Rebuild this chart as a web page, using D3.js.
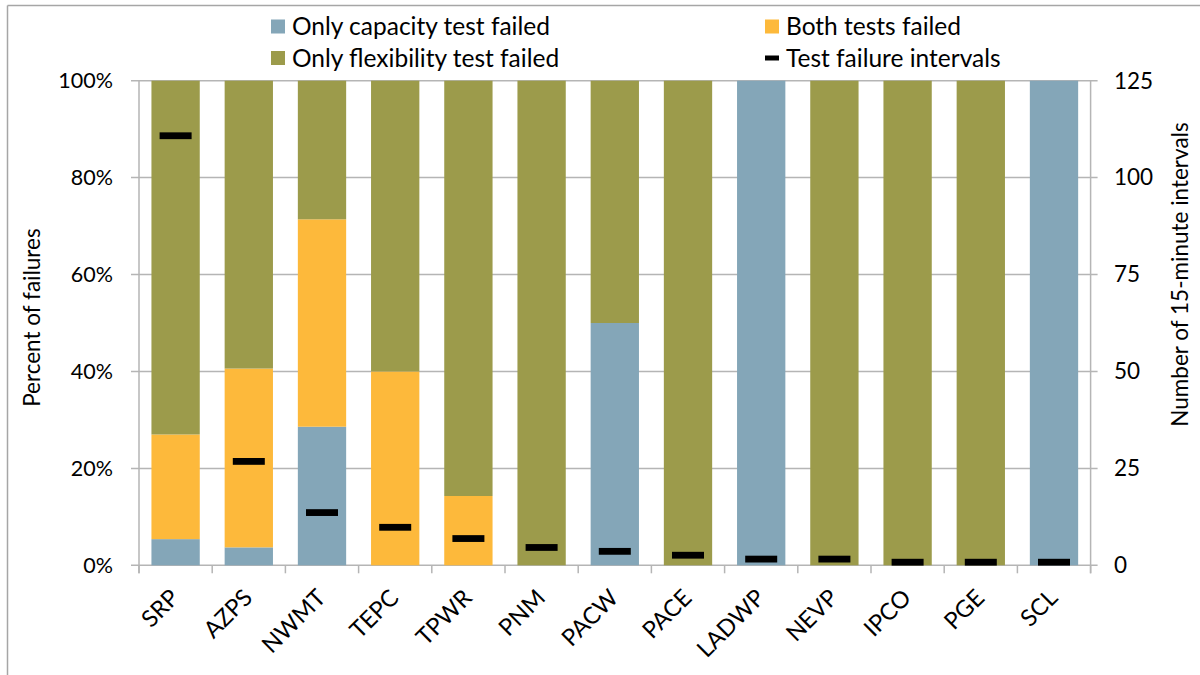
<!DOCTYPE html>
<html>
<head>
<meta charset="utf-8">
<script src="https://cdn.jsdelivr.net/npm/d3@7"></script>
<style>
  html, body { margin: 0; padding: 0; background: #fff; }
  svg { display: block; }
  text { font-family: Lato, "Open Sans", sans-serif; fill: #000; }
</style>
</head>
<body>
<svg id="chart" width="1200" height="675"></svg>
<script>
// ---- data ----
const categories = ["SRP","AZPS","NWMT","TEPC","TPWR","PNM","PACW","PACE","LADWP","NEVP","IPCO","PGE","SCL"];
const capacityOnly = [5.4, 3.7, 28.6, 0, 0, 0, 50, 0, 100, 0, 0, 0, 100];
const bothFailed   = [21.6, 36.9, 42.8, 40, 14.3, 0, 0, 0, 0, 0, 0, 0, 0];
const flexOnly     = [73.0, 59.4, 28.6, 60, 85.7, 100, 50, 100, 0, 100, 100, 100, 0];
const intervals    = [110.8, 26.8, 13.6, 9.8, 6.9, 4.6, 3.6, 2.6, 1.6, 1.6, 0.8, 0.8, 0.8];
const leftTicks  = [0, 20, 40, 60, 80, 100];
const rightTicks = [0, 25, 50, 75, 100, 125];
const seriesNames = ["Only capacity test failed", "Only flexibility test failed", "Both tests failed", "Test failure intervals"];

const colors = { cap: "#84a6b8", both: "#fdb93b", flex: "#9c9b4b" };
const gridColor = "#b5b5b5";
const FS = 22.5;
const LFS = 24.5;

const svg = d3.select("#chart");

// frame
svg.append("line").attr("x1", 7.5).attr("x2", 1200).attr("y1", 5.5).attr("y2", 5.5)
  .attr("stroke", "#a6a6a6").attr("stroke-width", 1.5);
svg.append("line").attr("x1", 7.5).attr("x2", 7.5).attr("y1", 5.5).attr("y2", 675)
  .attr("stroke", "#a6a6a6").attr("stroke-width", 1.5);

const pLeft = 139, pRight = 1090.6, pTop = 80.7, pBottom = 565.3;

const x = d3.scaleBand().domain(categories).range([pLeft, pRight]).paddingInner(0.34).paddingOuter(0.17);
const y = d3.scaleLinear().domain([0, 100]).range([pBottom, pTop]);
const y2 = d3.scaleLinear().domain([0, 125]).range([pBottom, pTop]);

// gridlines (with outward ticks on both sides)
svg.append("g").selectAll("line").data(leftTicks).join("line")
  .attr("x1", pLeft - 8).attr("x2", pRight + 7)
  .attr("y1", d => y(d)).attr("y2", d => y(d))
  .attr("stroke", gridColor).attr("stroke-width", 1.5);

// stacked bars
const rows = categories.map((c, i) => ({ cat: c, cap: capacityOnly[i], both: bothFailed[i], flex: flexOnly[i] }));
const stack = d3.stack().keys(["cap", "both", "flex"]);
const layers = stack(rows);
svg.append("g").selectAll("g").data(layers).join("g")
  .attr("fill", d => colors[d.key])
  .selectAll("rect").data(d => d).join("rect")
  .attr("x", d => x(d.data.cat))
  .attr("width", x.bandwidth())
  .attr("y", d => y(d[1]))
  .attr("height", d => y(d[0]) - y(d[1]));

// axes lines
svg.append("line").attr("x1", pLeft).attr("x2", pLeft).attr("y1", pTop).attr("y2", pBottom + 8)
  .attr("stroke", gridColor).attr("stroke-width", 1.5);
svg.append("line").attr("x1", pRight).attr("x2", pRight).attr("y1", pTop).attr("y2", pBottom + 8)
  .attr("stroke", gridColor).attr("stroke-width", 1.5);

// bottom category boundary ticks
const step = x.step();
const boundaries = categories.map(c => x(c) - step * x.paddingInner() / 2).concat([pRight]);
svg.append("g").selectAll("line").data(boundaries).join("line")
  .attr("x1", d => d).attr("x2", d => d).attr("y1", pBottom).attr("y2", pBottom + 8)
  .attr("stroke", gridColor).attr("stroke-width", 1.5);

// interval markers
svg.append("g").selectAll("rect").data(intervals).join("rect")
  .attr("x", (d, i) => x(categories[i]) + x.bandwidth() / 2 - 16)
  .attr("width", 32)
  .attr("y", d => y2(d) - 3.4)
  .attr("height", 6.8)
  .attr("fill", "#000");

// left tick labels
svg.append("g").selectAll("text").data(leftTicks).join("text")
  .attr("x", 113).attr("y", d => y(d)).attr("dy", "0.35em")
  .attr("text-anchor", "end").attr("font-size", 21.5)
  .text(d => d3.format(".0%")(d / 100));

// right tick labels
svg.append("g").selectAll("text").data(rightTicks).join("text")
  .attr("x", 1114).attr("y", d => y2(d)).attr("dy", "0.35em")
  .attr("text-anchor", "start").attr("font-size", FS)
  .text(d => d);

// x labels
svg.append("g").selectAll("text").data(categories).join("text")
  .attr("transform", d => `translate(${x(d) + x.bandwidth() / 2 + 5},${pBottom + 34}) rotate(-45)`)
  .attr("text-anchor", "end").attr("font-size", 23.5)
  .text(d => d);

// axis titles
svg.append("text").attr("transform", `translate(${40},${317.6}) rotate(-90)`)
  .attr("text-anchor", "middle").attr("font-size", FS).text("Percent of failures");
svg.append("text").attr("transform", `translate(${1188},${274.5}) rotate(-90)`)
  .attr("text-anchor", "middle").attr("font-size", FS).text("Number of 15-minute intervals");

// legend
const legendItems = [
  { name: seriesNames[0], type: "sq", color: colors.cap,  x: 271, y: 26.5 },
  { name: seriesNames[1], type: "sq", color: colors.flex, x: 271, y: 58 },
  { name: seriesNames[2], type: "sq", color: colors.both, x: 765, y: 26.5 },
  { name: seriesNames[3], type: "dash", color: "#000",    x: 765, y: 58 }
];
const lg = svg.append("g").selectAll("g").data(legendItems).join("g");
lg.filter(d => d.type === "sq").append("rect")
  .attr("x", d => d.x).attr("y", d => d.y - 7).attr("width", 14).attr("height", 14)
  .attr("fill", d => d.color);
lg.filter(d => d.type === "dash").append("rect")
  .attr("x", d => d.x).attr("y", d => d.y - 2.5).attr("width", 14).attr("height", 5)
  .attr("fill", d => d.color);
lg.append("text")
  .attr("x", d => d.x + 21).attr("y", d => d.y).attr("dy", "0.35em")
  .attr("font-size", LFS).text(d => d.name);
</script>
</body>
</html>
